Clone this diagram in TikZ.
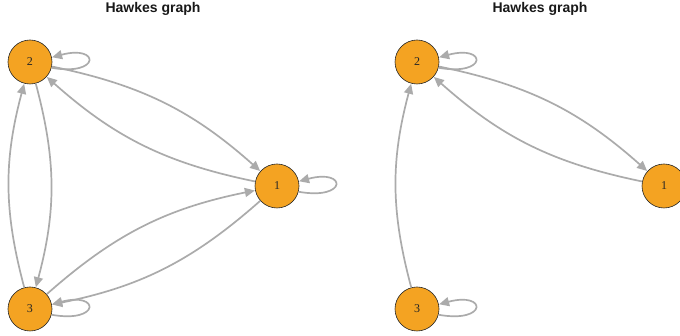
\documentclass[tikz,border=0pt]{standalone}
\usepackage{fontspec}
\setmainfont{Liberation Serif}
\newfontfamily\titlefont{Liberation Sans}
\usetikzlibrary{arrows.meta}
\definecolor{vfill}{HTML}{F4A322}
\definecolor{ecol}{HTML}{ABABAB}
\tikzset{
  vert/.style={circle, draw=black!85, line width=0.6pt, fill=vfill, minimum size=44pt, inner sep=0pt, font=\fontsize{12}{12}\selectfont, text=black!85},
  edge/.style={draw=ecol, line width=1.7pt, -{Triangle[length=10pt,width=9pt]}, shorten >=0.3pt},
  ttl/.style={font=\titlefont\bfseries\fontsize{14}{14}\selectfont, anchor=base, text=black!90}
}
\begin{document}
\begin{tikzpicture}[x=1pt,y=1pt]
\clip (0,0) rectangle (680,336);
\fill[white] (0,0) rectangle (680,336);
% titles
\node[ttl] (t1) at (153,323.5) {Hawkes graph};
\node[ttl] (t2) at (540,323.5) {Hawkes graph};
% left panel
\node[vert] (a2) at (30,274) {2};
\node[vert] (a1) at (277,150) {1};
\node[vert] (a3) at (30,27) {3};
\draw[edge] (a2) to[bend left=15] (a1);
\draw[edge] (a1) to[bend left=15] (a2);
\draw[edge] (a3) to[bend left=15] (a2);
\draw[edge] (a2) to[bend left=15] (a3);
\draw[edge] (a3) to[bend left=15] (a1);
\draw[edge] (a1) to[bend left=15] (a3);
\draw[edge] (a2.-15) .. controls +(-10:50) and +(15:50) .. (a2.12);
\draw[edge] (a1.-15) .. controls +(-10:50) and +(15:50) .. (a1.12);
\draw[edge] (a3.-15) .. controls +(-10:50) and +(15:50) .. (a3.12);
% right panel
\node[vert] (b2) at (417,274) {2};
\node[vert] (b1) at (664,150) {1};
\node[vert] (b3) at (417,27) {3};
\draw[edge] (b2) to[bend left=15] (b1);
\draw[edge] (b1) to[bend left=15] (b2);
\draw[edge] (b3) to[bend left=15] (b2);
\draw[edge] (b2.-15) .. controls +(-10:50) and +(15:50) .. (b2.12);
\draw[edge] (b3.-15) .. controls +(-10:50) and +(15:50) .. (b3.12);
\end{tikzpicture}
\end{document}
